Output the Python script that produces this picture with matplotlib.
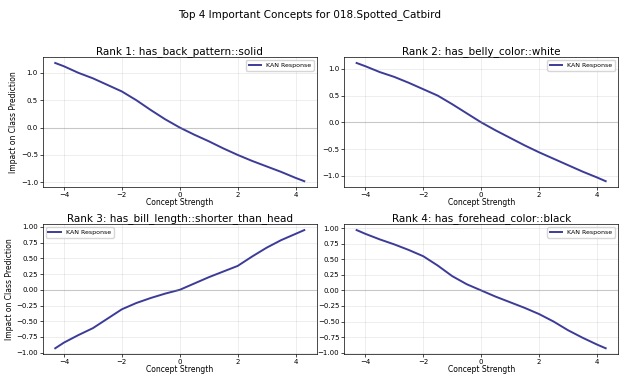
import numpy as np
import matplotlib
matplotlib.use('Agg')
import matplotlib.pyplot as plt

# Concept strength sample points
strength = [-4.3, -4.0, -3.5, -3.0, -2.5, -2.0, -1.5, -1.0, -0.5, 0.0,
            0.5, 1.0, 1.5, 2.0, 2.5, 3.0, 3.5, 4.0, 4.3]

titles = [
    'Rank 1: has_back_pattern::solid',
    'Rank 2: has_belly_color::white',
    'Rank 3: has_bill_length::shorter_than_head',
    'Rank 4: has_forehead_color::black',
]

rank1 = [1.18, 1.12, 1.00, 0.90, 0.78, 0.66, 0.50, 0.32, 0.15, 0.00,
         -0.13, -0.25, -0.38, -0.50, -0.61, -0.71, -0.81, -0.92, -0.98]
rank2 = [1.11, 1.05, 0.94, 0.85, 0.74, 0.62, 0.50, 0.34, 0.17, 0.00,
         -0.15, -0.29, -0.43, -0.56, -0.68, -0.80, -0.92, -1.03, -1.10]
rank3 = [-0.93, -0.84, -0.72, -0.61, -0.46, -0.31, -0.21, -0.13, -0.06, 0.00,
         0.10, 0.20, 0.29, 0.38, 0.53, 0.67, 0.79, 0.89, 0.95]
rank4 = [0.97, 0.91, 0.82, 0.74, 0.65, 0.55, 0.40, 0.23, 0.10, 0.00,
         -0.10, -0.19, -0.28, -0.38, -0.50, -0.64, -0.76, -0.87, -0.93]

responses = [rank1, rank2, rank3, rank4]
legend_loc = ['upper right', 'upper right', 'upper left', 'upper right']

fig, axes = plt.subplots(2, 2, figsize=(6.2, 3.78), dpi=100)
fig.subplots_adjust(left=0.069, right=0.997, top=0.849, bottom=0.063,
                    wspace=0.10, hspace=0.285)
fig.suptitle('Top 4 Important Concepts for 018.Spotted_Catbird', fontsize=7.5, y=0.975)

for i, ax in enumerate(axes.flat):
    ax.plot(strength, responses[i], color='#3c3c98', linewidth=1.4, label='KAN Response')
    ax.axhline(0, color='gray', linewidth=0.8, alpha=0.35)
    ax.set_title(titles[i], fontsize=7.5, pad=2)
    ax.set_xlabel('Concept Strength', fontsize=5.5, labelpad=0)
    if i % 2 == 0:
        ax.set_ylabel('Impact on Class Prediction', fontsize=5.5, labelpad=2)
    ax.grid(True, alpha=0.3, linewidth=0.5)
    ax.tick_params(labelsize=5, length=2, width=0.5, pad=1.5)
    for s in ax.spines.values():
        s.set_linewidth(0.5)
    ax.legend(loc=legend_loc[i], fontsize=4.5, handlelength=2, framealpha=0.8)
    ax.set_xticks([-4, -2, 0, 2, 4])

fig.savefig('out.png', dpi=100)
